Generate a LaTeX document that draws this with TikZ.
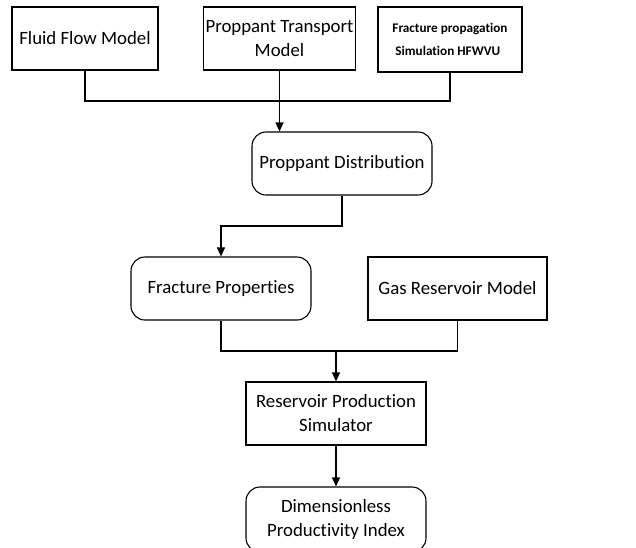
\documentclass[tikz,border=0pt]{standalone}
\usepackage{fontspec}
\setmainfont[RawFeature=-liga]{Carlito}
\usetikzlibrary{arrows.meta}
\begin{document}
\begin{tikzpicture}[x=1pt,y=-1pt,
  box/.style={draw=black,line width=1.1pt,minimum width=#1,minimum height=63pt,inner sep=2pt,align=center,
    font=\fontsize{18.8}{24}\selectfont},
  box/.default=180pt,
  rbox/.style={box=#1,rounded corners=14pt},
  rbox/.default=180pt,
  line/.style={draw=black,line width=1.1pt},
  arrow/.style={line,-{Triangle[length=9pt,width=8pt]}}]
\useasboundingbox (0,0) rectangle (636,547);
\node[box=146pt] (ff) at (85,38.5) {Fluid Flow Model};
\node[box=147pt] (pt) at (279.5,38.5) {Proppant Transport\\Model};
\node[box=144pt,minimum height=65pt,line width=1.8pt,align=left,font=\fontsize{13.2}{23}\selectfont\bfseries] (fp) at (450,39.5) {Fracture propagation\\\ Simulation HFWVU};
\node[rbox] (pd) at (342,163.5) {Proppant Distribution};
\node[rbox] (fr) at (221,288.5) {Fracture Properties};
\node[box=179pt] (gr) at (457.5,288.5) {Gas Reservoir Model};
\node[box] (rp) at (336,413.5) {Reservoir Production\\Simulator};
\node[rbox,minimum height=65pt] (dp) at (336,519.5) {Dimensionless\\Productivity Index};
\coordinate (j1) at (280,101);
\coordinate (j2) at (282,226);
\coordinate (j3) at (336,351);
\draw[line] (ff.south) |- (j1) -| (fp.south);
\draw[arrow] (pt.south) -- (pt.south |- pd.north);
\draw[arrow] (pd.south) |- (j2) -| (fr.north);
\draw[line] (fr.south) |- (j3) -| (gr.south);
\draw[arrow] (j3) -- (rp.north);
\draw[arrow] (rp.south) -- (dp.north);
\end{tikzpicture}
\end{document}
